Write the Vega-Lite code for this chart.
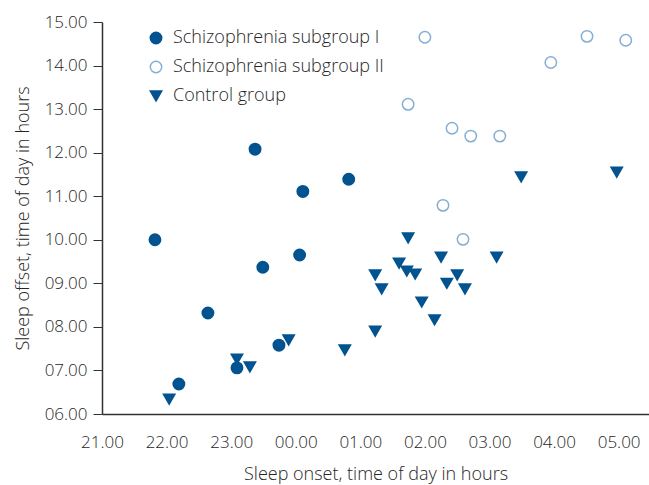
{
  "$schema": "https://vega.github.io/schema/vega-lite/v6.json",
  "autosize": "none",
  "padding": {"left": 102, "top": 22, "right": 0, "bottom": 71},
  "width": 547,
  "height": 392,
  "background": "white",
  "config": {
    "view": {"stroke": null},
    "font": "Open Sans",
    "axis": {"grid": false, "domainColor": "#333333", "domainWidth": 1.5, "tickColor": "#333333", "labelColor": "#262626", "titleColor": "#262626", "labelFont": "Open Sans", "titleFont": "Open Sans", "labelFontSize": 17, "titleFontSize": 18, "labelFontWeight": 300, "titleFontWeight": 300},
    "legend": {"labelFont": "Open Sans", "labelFontSize": 18, "labelFontWeight": 300, "labelColor": "#262626", "labelLimit": 0}
  },
  "data": {
    "values": [
      {"group": "Schizophrenia subgroup I", "onset": 21.82, "offset": 10.0},
      {"group": "Schizophrenia subgroup I", "onset": 22.19, "offset": 6.69},
      {"group": "Schizophrenia subgroup I", "onset": 22.64, "offset": 8.32},
      {"group": "Schizophrenia subgroup I", "onset": 23.37, "offset": 12.08},
      {"group": "Schizophrenia subgroup I", "onset": 23.49, "offset": 9.37},
      {"group": "Schizophrenia subgroup I", "onset": 23.09, "offset": 7.06},
      {"group": "Schizophrenia subgroup I", "onset": 23.74, "offset": 7.58},
      {"group": "Schizophrenia subgroup I", "onset": 24.06, "offset": 9.65},
      {"group": "Schizophrenia subgroup I", "onset": 24.11, "offset": 11.11},
      {"group": "Schizophrenia subgroup I", "onset": 24.82, "offset": 11.39},
      {"group": "Schizophrenia subgroup II", "onset": 26.0, "offset": 14.65},
      {"group": "Schizophrenia subgroup II", "onset": 25.74, "offset": 13.11},
      {"group": "Schizophrenia subgroup II", "onset": 26.42, "offset": 12.56},
      {"group": "Schizophrenia subgroup II", "onset": 26.71, "offset": 12.38},
      {"group": "Schizophrenia subgroup II", "onset": 27.16, "offset": 12.38},
      {"group": "Schizophrenia subgroup II", "onset": 26.28, "offset": 10.79},
      {"group": "Schizophrenia subgroup II", "onset": 26.59, "offset": 10.01},
      {"group": "Schizophrenia subgroup II", "onset": 27.95, "offset": 14.07},
      {"group": "Schizophrenia subgroup II", "onset": 28.51, "offset": 14.67},
      {"group": "Schizophrenia subgroup II", "onset": 29.11, "offset": 14.58},
      {"group": "Control group", "onset": 22.04, "offset": 6.34},
      {"group": "Control group", "onset": 23.09, "offset": 7.26},
      {"group": "Control group", "onset": 23.29, "offset": 7.08},
      {"group": "Control group", "onset": 23.89, "offset": 7.7},
      {"group": "Control group", "onset": 24.76, "offset": 7.47},
      {"group": "Control group", "onset": 25.23, "offset": 7.9},
      {"group": "Control group", "onset": 25.23, "offset": 9.19},
      {"group": "Control group", "onset": 25.33, "offset": 8.87},
      {"group": "Control group", "onset": 25.6, "offset": 9.46},
      {"group": "Control group", "onset": 25.74, "offset": 10.04},
      {"group": "Control group", "onset": 25.72, "offset": 9.28},
      {"group": "Control group", "onset": 25.85, "offset": 9.21},
      {"group": "Control group", "onset": 25.95, "offset": 8.57},
      {"group": "Control group", "onset": 26.15, "offset": 8.16},
      {"group": "Control group", "onset": 26.25, "offset": 9.6},
      {"group": "Control group", "onset": 26.34, "offset": 9.0},
      {"group": "Control group", "onset": 26.5, "offset": 9.19},
      {"group": "Control group", "onset": 26.62, "offset": 8.87},
      {"group": "Control group", "onset": 27.11, "offset": 9.6},
      {"group": "Control group", "onset": 27.49, "offset": 11.44},
      {"group": "Control group", "onset": 28.97, "offset": 11.55}
    ]
  },
  "mark": {"type": "point", "opacity": 1, "strokeWidth": 1.5},
  "encoding": {
    "x": {
      "field": "onset", "type": "quantitative",
      "scale": {"domain": [21, 29.47], "nice": false, "zero": false},
      "axis": {"values": [21, 22, 23, 24, 25, 26, 27, 28, 29], "ticks": false, "labelPadding": 20, "labelExpr": "format(datum.value % 24, '05.2f')", "title": "Sleep onset, time of day in hours", "titlePadding": 15, "labelFlush": false}
    },
    "y": {
      "field": "offset", "type": "quantitative",
      "scale": {"domain": [6, 15], "nice": false, "zero": false},
      "axis": {"values": [6, 7, 8, 9, 10, 11, 12, 13, 14, 15], "tickSize": 9, "labelPadding": 6, "format": "05.2f", "title": "Sleep offset, time of day in hours", "titlePadding": 12, "labelFlush": false}
    },
    "shape": {
      "field": "group", "type": "nominal", "title": null,
      "scale": {"domain": ["Schizophrenia subgroup I", "Schizophrenia subgroup II", "Control group"], "range": ["circle", "circle", "triangle-down"]},
      "legend": {"orient": "none", "legendX": 45, "legendY": 7, "padding": 0, "rowPadding": 11, "symbolSize": 130, "symbolStrokeWidth": 1.5, "labelOffset": 8}
    },
    "fill": {
      "field": "group", "type": "nominal", "title": null,
      "scale": {"domain": ["Schizophrenia subgroup I", "Schizophrenia subgroup II", "Control group"], "range": ["#02538f", "#ffffff", "#02538f"]}
    },
    "stroke": {
      "field": "group", "type": "nominal", "title": null,
      "scale": {"domain": ["Schizophrenia subgroup I", "Schizophrenia subgroup II", "Control group"], "range": ["#02538f", "#86aed3", "#02538f"]}
    },
    "size": {"value": 130}
  }
}
